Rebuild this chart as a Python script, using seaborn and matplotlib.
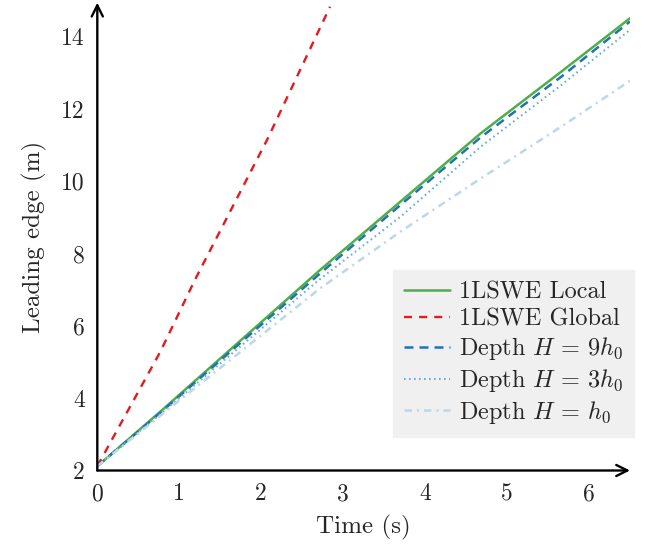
import matplotlib
matplotlib.use("Agg")
import matplotlib.pyplot as plt
import seaborn as sns
import pandas as pd

# ---- data ----
time_grid = [0.0, 0.77, 2.72, 3.70, 4.68, 5.66, 6.5]
local_1lswe = [2.12, 3.63, 7.55, 9.44, 11.33, 13.03, 14.51]
depth_9h0 = [2.12, 3.60, 7.455, 9.345, 11.22, 12.89, 14.42]
depth_3h0 = [2.12, 3.56, 7.30, 9.02, 10.96, 12.66, 14.19]
depth_1h0 = [2.12, 3.52, 7.04, 8.61, 10.08, 11.51, 12.78]

time_global = [0.0, 0.77, 1.19, 2.07, 2.84]
global_1lswe = [2.12, 5.29, 7.27, 11.14, 14.83]

labels = ["1LSWE Local", "1LSWE Global", r"Depth $H\,=\,9h_0$",
          r"Depth $H\,=\,3h_0$", r"Depth $H\,=\,h_0$"]
x_ticks = [0, 1, 2, 3, 4, 5, 6]
y_ticks = [2, 4, 6, 8, 10, 12, 14]

sns.set_style("white")
plt.rcParams["font.family"] = ["cmr10", "DejaVu Serif"]
plt.rcParams["mathtext.fontset"] = "cm"
plt.rcParams["axes.formatter.use_mathtext"] = True
plt.rcParams["font.size"] = 17

fig = plt.figure(figsize=(6.54, 5.48), dpi=100)
ax = fig.add_axes([97.3 / 654, (548 - 470.5) / 548, (630 - 97.3) / 654, (470.5 - 2.7) / 548])

series = [
    (time_grid, local_1lswe, labels[0], "#4daf4a", "-", 1.8),
    (time_global, global_1lswe, labels[1], "#e41a1c", (0, (3.4, 3.0)), 1.7),
    (time_grid, depth_9h0, labels[2], "#2171b5", (0, (3.6, 2.4)), 1.8),
    (time_grid, depth_3h0, labels[3], "#6baed6", (0, (0.8, 1.6)), 1.5),
    (time_grid, depth_1h0, labels[4], "#bcd6ea", (0, (3, 2, 0.8, 2)), 1.8),
]
for t, y, lab, col, ls, lw in series:
    df = pd.DataFrame({"t": t, "y": y})
    sns.lineplot(data=df, x="t", y="y", ax=ax, color=col, linestyle=ls,
                 linewidth=lw, label=lab, estimator=None, sort=False)

ax.set_xlim(0, 6.5)
ax.set_ylim(2, 14.94)
ax.set_xticks(x_ticks)
ax.set_yticks(y_ticks)
ax.set_xticklabels([str(v) for v in x_ticks])
ax.set_yticklabels([str(v) for v in y_ticks])
ax.tick_params(direction="inout", length=8, width=0.8, color="#555555",
               pad=5, labelsize=17)
ax.set_xlabel("Time (s)", fontsize=18, labelpad=7)
ax.set_ylabel("Leading edge (m)", fontsize=18, labelpad=10)

for s in ax.spines.values():
    s.set_visible(False)

arrow_kw = dict(arrowstyle="->", lw=1.7, color="black",
                shrinkA=0, shrinkB=0, mutation_scale=20)
ax.annotate("", xy=(1, 0), xytext=(0, 0), xycoords="axes fraction",
            textcoords="axes fraction", arrowprops=arrow_kw, annotation_clip=False)
ax.annotate("", xy=(0, 1), xytext=(0, 0), xycoords="axes fraction",
            textcoords="axes fraction", arrowprops=arrow_kw, annotation_clip=False)

leg = ax.legend(loc="lower right", bbox_to_anchor=(1.0075, 0.072),
                frameon=True, fancybox=False, facecolor="#f0f0f0",
                edgecolor="#f0f0f0", framealpha=1, fontsize=17.5,
                handlelength=1.9, handletextpad=0.35, labelspacing=0.2,
                borderpad=0.45, borderaxespad=0)

fig.savefig("out.png", dpi=100)
